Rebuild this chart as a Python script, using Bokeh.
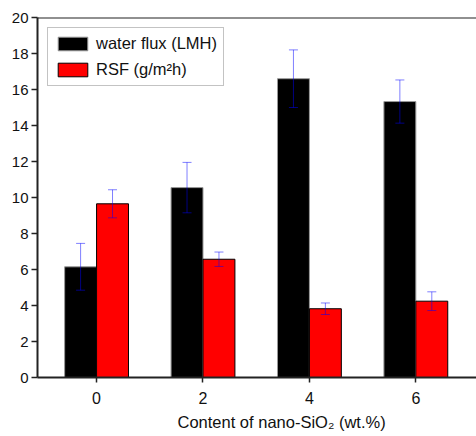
from bokeh.plotting import figure
from bokeh.models import (ColumnDataSource, Range1d, Whisker, TeeHead, Span,
                          FixedTicker, Legend, LegendItem, Title)
from bokeh.transform import dodge
from bokeh.embed import file_html
from bokeh.resources import INLINE

# data
content = [0, 2, 4, 6]
water_flux = [6.15, 10.55, 16.6, 15.33]
water_flux_err = [1.3, 1.4, 1.6, 1.2]
rsf = [9.65, 6.57, 3.82, 4.24]
rsf_err = [0.78, 0.4, 0.32, 0.52]
y_ticks = [0, 2, 4, 6, 8, 10, 12, 14, 16, 18, 20]
x_title = "Content of nano-SiO₂ (wt.%)"

src = ColumnDataSource(dict(
    x=content,
    wf=water_flux,
    wf_up=[v + e for v, e in zip(water_flux, water_flux_err)],
    wf_lo=[v - e for v, e in zip(water_flux, water_flux_err)],
    rsf=rsf,
    rsf_up=[v + e for v, e in zip(rsf, rsf_err)],
    rsf_lo=[v - e for v, e in zip(rsf, rsf_err)],
))

FONT = "Liberation Sans"

p = figure(width=476, height=436, output_backend="svg", toolbar_location=None,
           x_range=Range1d(-1.11, 7.14), y_range=Range1d(0, 20),
           min_border_left=37, min_border_right=0, min_border_top=17,
           min_border_bottom=59)
p.outline_line_color = None
p.xgrid.grid_line_color = None
p.ygrid.grid_line_color = None
p.background_fill_color = "white"
p.border_fill_color = "white"

b1 = p.vbar(x=dodge("x", -0.3), top="wf", bottom=0, width=0.6, source=src,
            fill_color="black", line_color="#999999", line_width=1)
b2 = p.vbar(x=dodge("x", 0.3), top="rsf", bottom=0, width=0.6, source=src,
            fill_color="#ff0000", line_color="black", line_width=1)

for base, up, lo in [(dodge("x", -0.3), "wf_up", "wf_lo"),
                     (dodge("x", 0.3), "rsf_up", "rsf_lo")]:
    w = Whisker(source=src, base=base, upper=up, lower=lo, level="overlay",
                line_color="blue", line_alpha=0.5, line_width=1,
                upper_head=TeeHead(size=9, line_color="blue", line_alpha=0.5, line_width=1),
                lower_head=TeeHead(size=9, line_color="blue", line_alpha=0.5, line_width=1))
    p.add_layout(w)

# top frame line
p.add_layout(Span(location=20, dimension="width", line_color="#222222", line_width=2))

for ax in (p.xaxis[0], p.yaxis[0]):
    ax.axis_line_width = 2
    ax.axis_line_color = "#222222"
    ax.major_tick_line_color = "#222222"
    ax.major_tick_line_width = 1.5
    ax.major_tick_in = 0
    ax.minor_tick_line_color = None
    ax.major_label_text_font = FONT
    ax.major_label_text_font_size = "15px"
    ax.major_label_text_color = "#111111"

p.xaxis.ticker = FixedTicker(ticks=content)
p.xaxis.major_tick_out = 5
p.xaxis.major_label_standoff = 9
p.xaxis.major_label_text_font_size = "16px"

p.yaxis.ticker = FixedTicker(ticks=y_ticks)
p.yaxis.major_tick_out = 6
p.yaxis.major_label_standoff = 3

# x-axis title (the original figure is cropped on the right, so the title
# sits right of the visible frame centre)
p.add_layout(Title(text=x_title, align="left", offset=140, standoff=8,
                   text_font=FONT, text_font_size="16.5px",
                   text_font_style="normal", text_color="#111111"), "below")

legend = Legend(items=[LegendItem(label="water flux (LMH)", renderers=[b1]),
                       LegendItem(label="RSF (g/m²h)", renderers=[b2])],
                location="top_left", margin=10, padding=6, spacing=7,
                glyph_width=37, glyph_height=17, label_height=17,
                label_standoff=5, label_text_font=FONT,
                label_text_font_size="16.5px", label_text_color="#111111",
                border_line_color="#888888", border_line_width=1,
                background_fill_alpha=1)
p.add_layout(legend)

open("out.html", "w").write(file_html(p, INLINE))
